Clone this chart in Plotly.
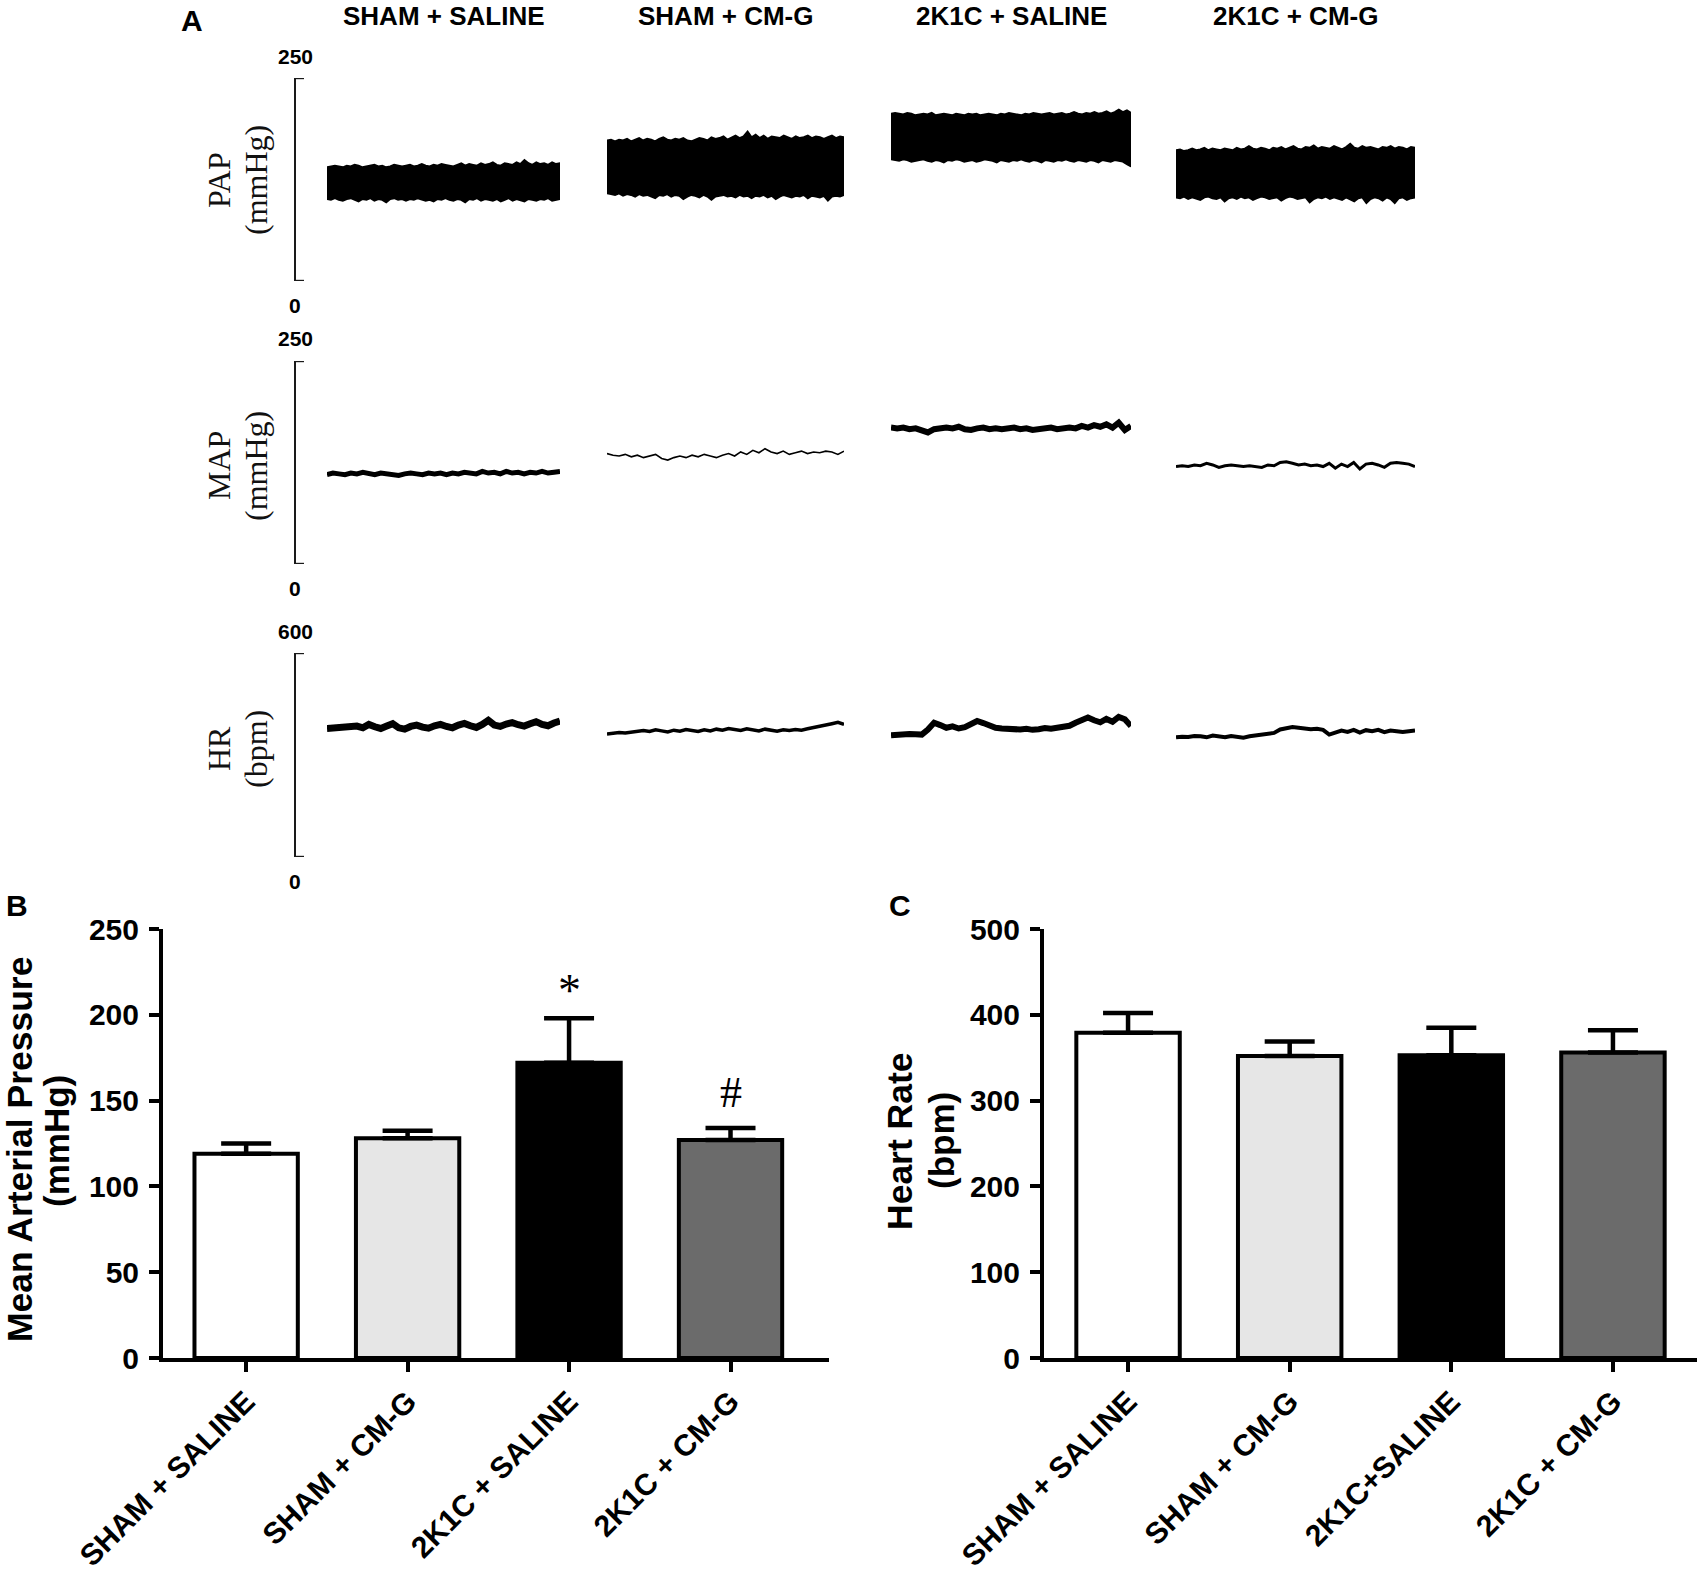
import plotly.graph_objects as go

W, H = 1700, 1569

# ---------------- data ----------------
groups_a = ["SHAM + SALINE", "SHAM + CM-G", "2K1C + SALINE", "2K1C + CM-G"]
groups_b = ["SHAM + SALINE", "SHAM + CM-G", "2K1C + SALINE", "2K1C + CM-G"]
groups_c = ["SHAM + SALINE", "SHAM + CM-G", "2K1C+SALINE", "2K1C + CM-G"]

map_mean = [119, 128, 172, 127]
map_sem = [6, 4.5, 26, 7]
hr_mean = [379, 352, 353, 356]
hr_sem = [23, 17, 32, 26]
bar_colors = ["#ffffff", "#e6e6e6", "#000000", "#6b6b6b"]

map_ticks = [0, 50, 100, 150, 200, 250]
hr_ticks = [0, 100, 200, 300, 400, 500]

# Panel A recordings (mmHg / bpm)
pap_top_1 = [140, 141, 142, 141, 140, 142, 141, 143, 142, 140, 141, 142, 143, 141, 142, 140, 141, 143, 142, 141,
             142, 143, 141, 142, 144, 142, 141, 143, 142, 144, 143, 142, 141, 143, 145, 142, 144, 143, 142, 145,
             143, 144, 146, 143, 142, 145, 144, 143, 146, 144, 149, 145, 143, 146, 144, 145, 143, 146, 144, 145]
pap_bot_1 = [101, 100, 102, 100, 99, 101, 102, 100, 98, 101, 100, 102, 99, 101, 100, 97, 101, 102, 100, 101,
             99, 101, 100, 102, 101, 99, 100, 98, 101, 100, 102, 100, 99, 101, 100, 97, 101, 100, 102, 99,
             101, 100, 99, 101, 98, 100, 102, 99, 101, 100, 98, 101, 100, 99, 101, 100, 102, 99, 100, 101]
pap_top_2 = [173, 174, 172, 174, 173, 175, 172, 174, 176, 173, 175, 174, 172, 175, 177, 174, 173, 175, 174, 176,
             173, 172, 174, 176, 175, 173, 177, 175, 176, 178, 174, 177, 179, 176, 178, 184, 177, 180, 176, 179,
             175, 178, 177, 176, 179, 177, 175, 178, 176, 177, 179, 176, 178, 177, 175, 177, 179, 176, 178, 177]
pap_bot_2 = [108, 107, 106, 108, 105, 107, 106, 104, 107, 105, 106, 104, 102, 106, 105, 107, 104, 106, 105, 101,
             104, 106, 105, 103, 106, 104, 100, 104, 105, 106, 104, 105, 103, 106, 104, 105, 102, 105, 104, 106,
             103, 105, 101, 104, 106, 105, 103, 105, 104, 106, 102, 105, 104, 103, 105, 99, 104, 105, 104, 106]
pap_top_3 = [206, 207, 206, 205, 207, 206, 204, 205, 206, 205, 207, 204, 205, 206, 205, 204, 206, 205, 204, 206,
             205, 206, 204, 205, 206, 205, 204, 206, 205, 207, 206, 205, 204, 206, 205, 207, 206, 205, 206, 207,
             205, 206, 207, 205, 206, 208, 206, 205, 207, 206, 208, 206, 207, 209, 206, 208, 211, 208, 210, 207]
pap_bot_3 = [150, 149, 148, 150, 149, 147, 148, 149, 150, 148, 147, 149, 148, 146, 149, 148, 150, 149, 147, 148,
             149, 147, 148, 150, 149, 148, 146, 149, 148, 147, 149, 148, 150, 148, 147, 149, 148, 146, 149, 148,
             147, 149, 148, 150, 148, 147, 149, 148, 147, 149, 148, 146, 149, 148, 147, 149, 148, 147, 144, 141]
pap_top_4 = [161, 162, 160, 161, 163, 161, 162, 164, 161, 163, 162, 161, 163, 162, 161, 164, 162, 163, 166, 163,
             162, 164, 163, 161, 164, 163, 165, 162, 164, 166, 163, 162, 165, 164, 167, 163, 165, 164, 163, 166,
             164, 162, 165, 169, 164, 163, 166, 164, 165, 163, 162, 165, 164, 166, 163, 165, 164, 162, 165, 164]
pap_bot_4 = [103, 102, 104, 101, 103, 102, 100, 103, 104, 102, 101, 103, 98, 102, 103, 101, 104, 102, 103, 100,
             102, 104, 103, 101, 102, 103, 99, 102, 104, 103, 101, 102, 103, 97, 101, 103, 102, 104, 101, 103,
             102, 100, 103, 101, 98, 102, 103, 96, 101, 103, 102, 99, 103, 101, 96, 102, 103, 100, 102, 103]

map_trace_1 = [110, 112, 111, 110, 112, 111, 113, 111, 110, 112, 111, 110, 109, 111, 112, 111, 110, 112, 111, 112,
               110, 112, 111, 113, 112, 111, 114, 112, 113, 111, 114, 112, 113, 111, 113, 112, 114, 112, 113, 114]
map_trace_2 = [136, 134, 133, 135, 132, 134, 131, 133, 135, 130, 128, 131, 133, 131, 134, 132, 135, 133, 131, 134,
               136, 133, 138, 135, 140, 137, 142, 138, 136, 139, 135, 137, 139, 136, 138, 137, 139, 138, 135, 139]
map_trace_3 = [168, 167, 168, 166, 167, 165, 162, 166, 167, 168, 167, 169, 166, 165, 167, 168, 166, 167, 166, 167,
               168, 166, 167, 165, 166, 167, 168, 166, 167, 168, 167, 170, 168, 171, 169, 172, 168, 174, 165, 170]
map_trace_4 = [120, 121, 120, 122, 121, 124, 122, 119, 121, 122, 121, 120, 121, 120, 119, 122, 121, 125, 126, 124,
               122, 123, 121, 122, 120, 124, 118, 123, 120, 125, 117, 123, 124, 122, 119, 124, 125, 124, 123, 120]

hr_trace_1 = [378, 380, 379, 382, 381, 385, 380, 390, 383, 378, 385, 392, 380, 376, 384, 388, 382, 379, 386, 390,
              384, 380, 388, 393, 386, 381, 390, 402, 388, 384, 391, 395, 389, 385, 392, 398, 390, 386, 394, 400]
hr_trace_2 = [362, 364, 366, 365, 368, 370, 372, 369, 374, 371, 368, 373, 370, 375, 372, 369, 374, 371, 376, 373,
              378, 375, 372, 377, 374, 371, 376, 373, 370, 374, 372, 375, 373, 377, 380, 384, 388, 392, 396, 390]
hr_trace_3 = [358, 360, 359, 362, 361, 360, 375, 395, 388, 380, 384, 378, 382, 392, 400, 394, 386, 380, 378, 376,
              378, 375, 377, 374, 376, 379, 377, 380, 383, 386, 395, 405, 410, 402, 396, 406, 398, 412, 405, 385]
hr_trace_4 = [352, 354, 353, 356, 355, 352, 357, 354, 352, 356, 353, 351, 355, 357, 360, 362, 365, 375, 378, 382,
              380, 378, 376, 377, 374, 360, 366, 372, 368, 374, 366, 373, 370, 374, 367, 372, 370, 368, 370, 372]

pap_top = [pap_top_1, pap_top_2, pap_top_3, pap_top_4]
pap_bot = [pap_bot_1, pap_bot_2, pap_bot_3, pap_bot_4]
map_traces = [map_trace_1, map_trace_2, map_trace_3, map_trace_4]
hr_traces = [hr_trace_1, hr_trace_2, hr_trace_3, hr_trace_4]


# ---------------- helpers (pixel layout) ----------------
def fx(p):
    return p / W


def fy(p):
    return 1 - p / H


def rec_time(values):
    """Normalised recording time (0..1) for each sample of a trace."""
    n = len(values)
    return [k / (n - 1) for k in range(n)]


col_px = [(327, 560), (607, 844), (891, 1131), (1176, 1415)]
rows = {"y3": (78, 281), "y4": (361, 564), "y5": (653, 857)}
bracket_x = 295
map_w = [5, 1.6, 6, 3]
hr_w = [7, 3.5, 6, 4]

SANS = "Liberation Sans, Arial, sans-serif"
SERIF = "Liberation Serif, Times New Roman, serif"

fig = go.Figure()

# ---------------- Panel A traces ----------------
for i in range(4):
    xa = f"x{3 + i}"
    t = rec_time(pap_top[i])
    fig.add_trace(go.Scatter(
        x=t + t[::-1], y=pap_top[i] + pap_bot[i][::-1], mode="lines",
        fill="toself", fillcolor="black", line=dict(color="black", width=2),
        xaxis=xa, yaxis="y3", hoverinfo="skip", showlegend=False))
    fig.add_trace(go.Scatter(
        x=rec_time(map_traces[i]), y=map_traces[i], mode="lines",
        line=dict(color="black", width=map_w[i]),
        xaxis=xa, yaxis="y4", hoverinfo="skip", showlegend=False))
    fig.add_trace(go.Scatter(
        x=rec_time(hr_traces[i]), y=hr_traces[i], mode="lines",
        line=dict(color="black", width=hr_w[i]),
        xaxis=xa, yaxis="y5", hoverinfo="skip", showlegend=False))

# ---------------- Panel B / C bars ----------------
fig.add_trace(go.Bar(
    x=groups_b, y=map_mean, width=0.64,
    marker=dict(color=bar_colors, line=dict(color="black", width=4)),
    error_y=dict(type="data", array=map_sem, arrayminus=[0] * 4, symmetric=False,
                 color="black", thickness=4.5, width=25),
    xaxis="x", yaxis="y", showlegend=False))
fig.add_trace(go.Bar(
    x=groups_c, y=hr_mean, width=0.64,
    marker=dict(color=bar_colors, line=dict(color="black", width=4)),
    error_y=dict(type="data", array=hr_sem, arrayminus=[0] * 4, symmetric=False,
                 color="black", thickness=4.5, width=25),
    xaxis="x2", yaxis="y2", showlegend=False))

layout = dict(
    template="none",
    width=W, height=H, autosize=False,
    margin=dict(l=0, r=0, t=0, b=0, pad=0, autoexpand=False),
    paper_bgcolor="white", plot_bgcolor="white",
    showlegend=False,
)

bar_y_dom = [fy(1358), fy(929)]
tickfont = dict(family=SANS, size=30, color="black", weight="bold")
common_x = dict(showline=True, linewidth=4, linecolor="black", ticks="outside", ticklen=10,
                tickwidth=4, tickcolor="black", tickangle=-45, tickfont=tickfont,
                ticklabeloverflow="allow",
                showgrid=False, zeroline=False, fixedrange=True, automargin=False)
common_y = dict(showline=True, linewidth=4, linecolor="black", ticks="outside", ticklen=10,
                tickwidth=4, tickcolor="black", tickfont=tickfont, ticklabelstandoff=4,
                ticklabeloverflow="allow",
                showgrid=False, zeroline=False, fixedrange=True, automargin=False)

layout["xaxis"] = dict(domain=[fx(163), fx(829)], range=[-0.515, 3.61], anchor="y", **common_x)
layout["yaxis"] = dict(domain=bar_y_dom, range=[0, 250], tickvals=map_ticks, anchor="x", **common_y)
layout["xaxis2"] = dict(domain=[fx(1044), fx(1697)], range=[-0.52, 3.52], anchor="y2", **common_x)
layout["yaxis2"] = dict(domain=bar_y_dom, range=[0, 500], tickvals=hr_ticks, anchor="x2", **common_y)

for i in range(4):
    layout[f"xaxis{3 + i}"] = dict(domain=[fx(col_px[i][0]), fx(col_px[i][1])],
                                   range=[0, 1], visible=False, anchor="y3",
                                   fixedrange=True, automargin=False)

bracket_ranges = {"y3": 250, "y4": 250, "y5": 600}
shapes = []
for name, (top, bot) in rows.items():
    num = name[1:]
    layout[f"yaxis{num}"] = dict(domain=[fy(bot), fy(top)], range=[0, bracket_ranges[name]],
                                 anchor="free", position=fx(bracket_x), showline=True,
                                 linewidth=2.4, linecolor="#1a1a1a", ticks="",
                                 showticklabels=False, showgrid=False,
                                 zeroline=False, fixedrange=True, automargin=False)
    # bracket end ticks (pointing right)
    for v in (0, bracket_ranges[name]):
        shapes.append(dict(type="line", xref="paper", yref=name, x0=fx(bracket_x - 1), x1=fx(bracket_x + 9),
                           y0=v, y1=v, line=dict(color="#1a1a1a", width=2.4)))

ann = []
# panel letters
ann.append(dict(text="A", x=fx(179), y=fy(2), xanchor="left", yanchor="top",
                font=dict(family=SANS, size=30, weight="bold")))
ann.append(dict(text="B", x=fx(4), y=fy(887), xanchor="left", yanchor="top",
                font=dict(family=SANS, size=30, weight="bold")))
ann.append(dict(text="C", x=fx(887), y=fy(887), xanchor="left", yanchor="top",
                font=dict(family=SANS, size=30, weight="bold")))

# column headers of panel A
for i, g in enumerate(groups_a):
    cx = (col_px[i][0] + col_px[i][1]) / 2
    ann.append(dict(text=g, x=fx(cx), y=fy(16), xanchor="center", yanchor="middle",
                    font=dict(family=SANS, size=26, weight="bold")))

# bracket scale labels
for name, (top, bot) in rows.items():
    ann.append(dict(text=str(bracket_ranges[name]), x=fx(bracket_x), y=fy(top - 22),
                    xanchor="center", yanchor="middle",
                    font=dict(family=SANS, size=21, weight="bold")))
    ann.append(dict(text="0", x=fx(bracket_x), y=fy(bot + 24), xanchor="center", yanchor="middle",
                    font=dict(family=SANS, size=21, weight="bold")))

# row titles (serif)
row_titles = [("PAP", "(mmHg)", 180), ("MAP", "(mmHg)", 466), ("HR", "(bpm)", 749)]
for t1, t2, yc in row_titles:
    ann.append(dict(text=t1, x=fx(219), y=fy(yc), xanchor="center", yanchor="middle", textangle=-90,
                    font=dict(family=SERIF, size=32, color="#111")))
    ann.append(dict(text=t2, x=fx(256), y=fy(yc), xanchor="center", yanchor="middle", textangle=-90,
                    font=dict(family=SERIF, size=32, color="#111")))

# bar chart titles
ann.append(dict(text="Mean Arterial Pressure", x=fx(20), y=fy(1150), xanchor="center", yanchor="middle",
                textangle=-90, font=dict(family=SANS, size=35.5, weight="bold")))
ann.append(dict(text="(mmHg)", x=fx(56), y=fy(1141), xanchor="center", yanchor="middle",
                textangle=-90, font=dict(family=SANS, size=35, weight="bold")))
ann.append(dict(text="Heart Rate", x=fx(900), y=fy(1141), xanchor="center", yanchor="middle",
                textangle=-90, font=dict(family=SANS, size=35.5, weight="bold")))
ann.append(dict(text="(bpm)", x=fx(941), y=fy(1141), xanchor="center", yanchor="middle",
                textangle=-90, font=dict(family=SANS, size=35, weight="bold")))

# significance markers
ann.append(dict(text="*", xref="x", yref="y", x=2, y=214, xanchor="center", yanchor="middle",
                font=dict(family=SERIF, size=46)))
ann.append(dict(text="#", xref="x", yref="y", x=3, y=155, xanchor="center", yanchor="middle",
                font=dict(family=SERIF, size=44)))

for a in ann:
    a.setdefault("xref", "paper")
    a.setdefault("yref", "paper")
    a["showarrow"] = False
    a.setdefault("font", {})
    a["font"].setdefault("color", "black")

layout["annotations"] = ann
layout["shapes"] = shapes
fig.update_layout(**layout)

fig.write_html("out.html", include_plotlyjs=True, config={"displayModeBar": False},
               post_script="document.body.style.margin='0';")
